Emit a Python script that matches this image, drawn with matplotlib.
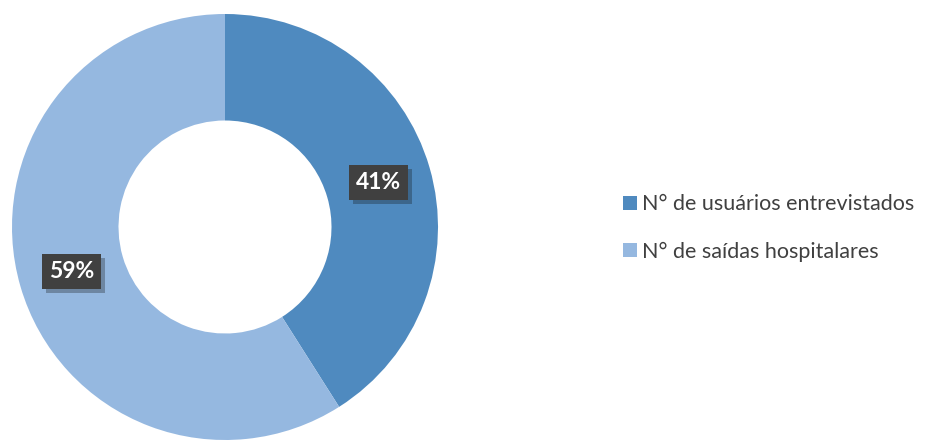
import numpy as np
import matplotlib.pyplot as plt
import matplotlib.patheffects as pe
from matplotlib.patches import Patch

labels = ['N° de usuários entrevistados', 'N° de saídas hospitalares']
values = [41, 59]
pct_labels = ['41%', '59%']
colors = ['#4F8ABF', '#95B8E0']

plt.rcParams['font.family'] = ['Lato', 'DejaVu Sans']

fig = plt.figure(figsize=(9.25, 4.4), dpi=100)
ax = fig.add_axes([12 / 925, 0, 426 / 925, 426 / 440])

wedges, texts = ax.pie(values, colors=colors, startangle=90, counterclock=False,
                       radius=1.0, wedgeprops=dict(width=0.5, edgecolor='white', linewidth=0))

# percentage labels in dark boxes, centred on the ring
for w, lab in zip(wedges, pct_labels):
    mid = np.deg2rad((w.theta1 + w.theta2) / 2)
    t = ax.text(0.75 * np.cos(mid), 0.75 * np.sin(mid), lab, ha='center', va='center',
                color='white', fontsize=16.5, fontweight='bold',
                bbox=dict(boxstyle='square,pad=0.3', facecolor='#404040', edgecolor='none'))
    t.get_bbox_patch().set_path_effects([pe.SimplePatchShadow(offset=(3, -3), alpha=0.3),
                                         pe.Normal()])

ax.set_xlim(-1, 1)
ax.set_ylim(-1, 1)
ax.set_aspect('equal')
ax.axis('off')

handles = [Patch(facecolor=c, edgecolor='none') for c in colors]
fig.legend(handles, labels, loc='center left', bbox_to_anchor=(604 / 925, 1 - 228 / 440),
           frameon=False, fontsize=15.5, handlelength=0.65, handleheight=0.65,
           handletextpad=0.2, labelspacing=1.25, labelcolor='#404040')

fig.savefig('out.png', dpi=100)
